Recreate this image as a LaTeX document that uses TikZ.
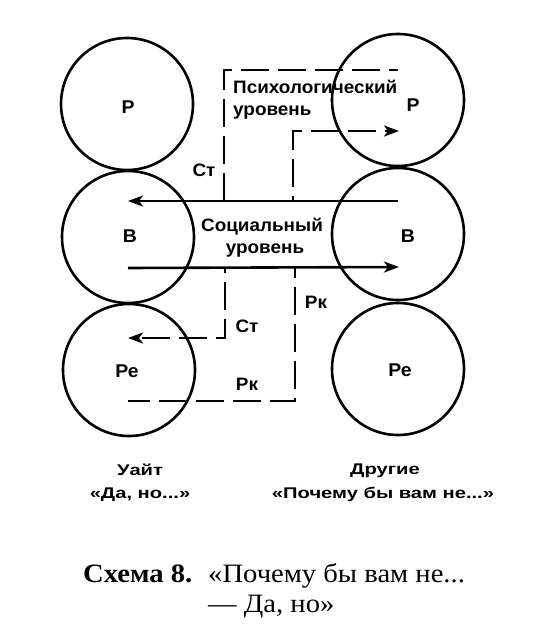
\documentclass[tikz,border=0pt]{standalone}
\usepackage{fontspec}
\setmainfont{Liberation Serif}[FakeStretch=1.08]
\newfontfamily\dfont{Liberation Sans}[FakeStretch=1.05]
\newfontfamily\bfont{Liberation Sans}[FakeStretch=1.3]
\usetikzlibrary{arrows.meta}
\begin{document}
\begin{tikzpicture}[x=1pt,y=-1pt,
  circ/.style={circle,draw,line width=2.6pt,minimum size=132pt,inner sep=0pt},
  lbl/.style={font=\dfont\bfseries\fontsize{18.5}{20}\selectfont,inner sep=0pt,anchor=base},
  txt/.style={font=\dfont\bfseries\fontsize{18}{20}\selectfont,inner sep=0pt,anchor=base},
  btxt/.style={font=\bfont\bfseries\fontsize{15.5}{18}\selectfont,inner sep=0pt,anchor=base},
  captxt/.style={font=\fontsize{26.5}{30}\selectfont,inner sep=0pt,anchor=base west},
  sline/.style={line width=2.6pt},
  dline/.style={line width=2.6pt,dash pattern=on 28pt off 9pt},
  tip/.style={-{Stealth[length=15pt,width=11pt,inset=4pt]}}]
\useasboundingbox (0,0) rectangle (540,640);
\fill[white] (0,0) rectangle (540,640);
% circles
\node[circ] (LP) at (127,104) {};
\node[circ] (LB) at (128,237) {};
\node[circ] (LRe) at (129,370) {};
\node[circ] (RP) at (398,100) {};
\node[circ] (RB) at (398,234) {};
\node[circ] (RRe) at (398,369) {};
% circle labels
\node[lbl] (LPt) at (128,113) {Р};
\node[lbl] (LBt) at (130,242) {В};
\node[lbl] (LRet) at (127,377) {Ре};
\node[lbl] (RPt) at (413,111) {Р};
\node[lbl] (RBt) at (408,242) {В};
\node[lbl] (RRet) at (400,376) {Ре};
% level texts
\node[txt,anchor=base west] (psy1) at (233,93) {Психологический};
\node[txt,anchor=base west] (psy2) at (233,115) {уровень};
\node[txt] (soc1) at (262,231) {Социальный};
\node[txt] (soc2) at (265,253) {уровень};
% edge labels
\node[txt] (st1) at (204,176) {Ст};
\node[txt] (st2) at (247,332) {Ст};
\node[txt] (rk1) at (316,308) {Рк};
\node[txt] (rk2) at (247,390) {Рк};
% coordinates
\coordinate (a1) at (398,201);
\coordinate (a2) at (128,201);
\coordinate (j1) at (224,201);
\coordinate (k1) at (224,70);
\coordinate (e1) at (398,70);
\coordinate (j2) at (293,201);
\coordinate (k2) at (293,131);
\coordinate (e2) at (399,131);
\coordinate (b1) at (128,268);
\coordinate (b2) at (399,267);
\coordinate (j3) at (225,268);
\coordinate (k3) at (225,338);
\coordinate (e3) at (128,338);
\coordinate (j4) at (295,268);
\coordinate (k4) at (295,401);
\coordinate (e4) at (128,401);
% connectors
\draw[sline,tip] (a1) -- (a2);
\draw[sline,tip] (b1) -- (b2);
\draw[dline] (j1) -- (k1) -- (e1);
\draw[dline,dash phase=23pt,tip] (j2) -- (k2) -- (e2);
\draw[dline,dash phase=23pt,tip] (j3) -- (k3) -- (e3);
\draw[dline,dash phase=18pt] (j4) -- (k4) -- (e4);
% bottom labels
\node[btxt] (w1) at (140,475) {Уайт};
\node[btxt] (w2) at (140,498) {«Да, но...»};
\node[btxt] (o1) at (385,474) {Другие};
\node[btxt] (o2) at (383,498) {«Почему бы вам не...»};
% caption
\node[captxt] (c1) at (83,582) {\textbf{Схема 8.}};
\node[captxt] (c2) at (208,582) {«Почему бы вам не...};
\node[captxt] (c3) at (208,612) {— Да, но»};
\end{tikzpicture}
\end{document}
